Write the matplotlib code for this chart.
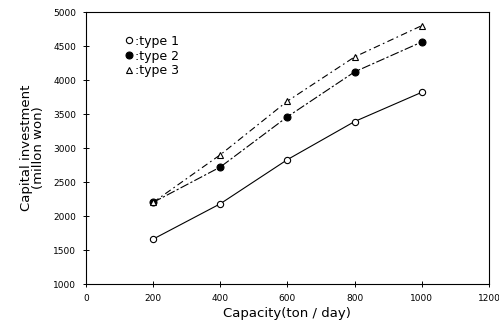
import matplotlib
matplotlib.use("Agg")
import matplotlib.pyplot as plt

capacity = [200, 400, 600, 800, 1000]
type1 = [1660, 2180, 2830, 3390, 3820]
type2 = [2200, 2720, 3460, 4120, 4560]
type3 = [2200, 2900, 3690, 4340, 4800]
labels = [":type 1", ":type 2", ":type 3"]
xticks = [0, 200, 400, 600, 800, 1000, 1200]
yticks = [1000, 1500, 2000, 2500, 3000, 3500, 4000, 4500, 5000]

fig = plt.figure(figsize=(4.99, 3.25), dpi=100)
ax = fig.add_axes([0.172, 0.126, 0.808, 0.837])

ax.plot(capacity, type1, color="black", lw=0.8, ls="-",
        marker="o", mfc="white", mec="black", ms=4.5, mew=0.8, label=labels[0])
ax.plot(capacity, type2, color="black", lw=0.8, ls=(0, (8, 2, 2, 2)),
        marker="o", mfc="black", mec="black", ms=5, mew=0.8, label=labels[1])
ax.plot(capacity, type3, color="black", lw=0.8, ls=(0, (6, 3, 1.5, 3)),
        marker="^", mfc="white", mec="black", ms=5, mew=0.8, label=labels[2])

ax.set_xlim(0, 1200)
ax.set_ylim(1000, 5000)
ax.set_xticks(xticks)
ax.set_yticks(yticks)
ax.tick_params(direction="inout", length=4, width=0.7, labelsize=6.5, pad=5)
for s in ax.spines.values():
    s.set_linewidth(0.8)

ax.set_xlabel("Capacity(ton / day)", fontsize=9.5, labelpad=3)
ax.set_ylabel("Capital investment\n(millon won)", fontsize=9.5, labelpad=6, linespacing=0.9)

leg = ax.legend(loc="upper left", bbox_to_anchor=(0.085, 0.935), frameon=False,
                fontsize=9, handlelength=0.6, handletextpad=0.2,
                labelspacing=0.15, borderaxespad=0)
for h in leg.get_lines():
    h.set_linestyle("None")

fig.savefig("out.png", dpi=100)
